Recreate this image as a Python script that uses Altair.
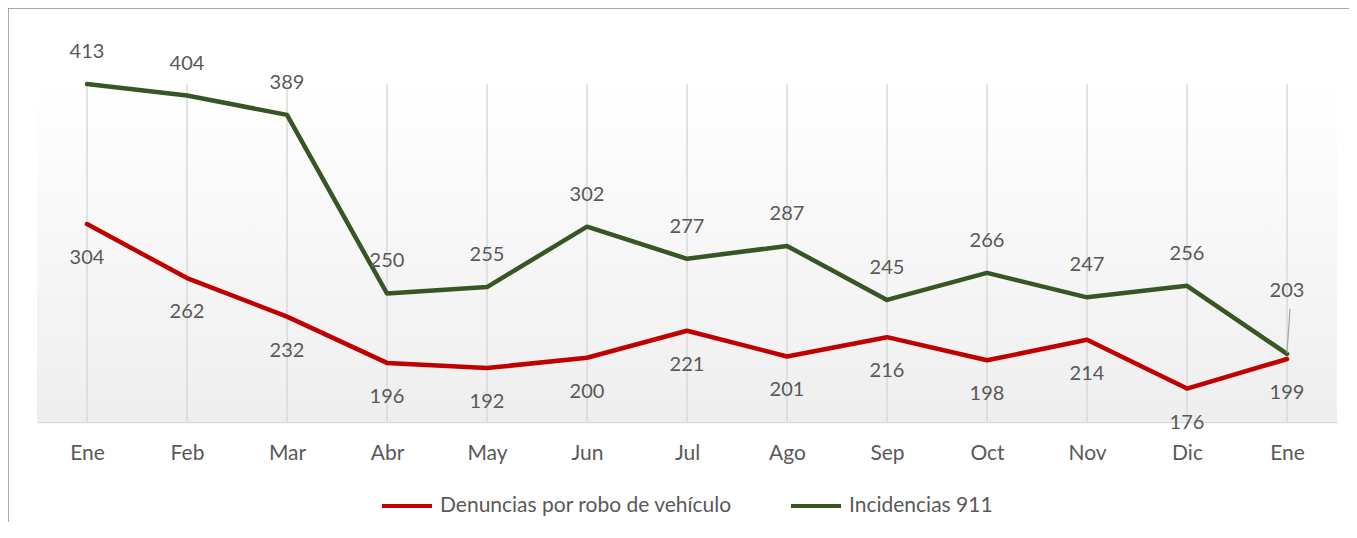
import altair as alt
import pandas as pd

meses = ["Ene", "Feb", "Mar", "Abr", "May", "Jun", "Jul", "Ago", "Sep", "Oct", "Nov", "Dic", "Ene"]
denuncias = [304, 262, 232, 196, 192, 200, 221, 201, 216, 198, 214, 176, 199]
incidencias = [413, 404, 389, 250, 255, 302, 277, 287, 245, 266, 247, 256, 203]
series = ["Denuncias por robo de vehículo", "Incidencias 911"]
colores = ["#C00000", "#375623"]

rows = []
for i, (m, d, g) in enumerate(zip(meses, denuncias, incidencias)):
    rows.append({"idx": i, "mes": m, "serie": series[0], "valor": d})
    rows.append({"idx": i, "mes": m, "serie": series[1], "valor": g})
df = pd.DataFrame(rows)
one = pd.DataFrame({"a": [0]})

FONT = "Lato"
TXT = "#595959"
W, H = 1300, 338
last = len(meses) - 1

label_expr = "[" + ",".join("'" + m + "'" for m in meses) + "][datum.value]"

X = alt.X("idx:O", scale=alt.Scale(type="point", padding=0.5),
          axis=alt.Axis(title=None, labelExpr=label_expr, labelAngle=0, ticks=False,
                        domainColor="#d9d9d9", domainWidth=1.5, labelFontSize=21,
                        labelColor=TXT, labelFont=FONT, labelPadding=20, grid=False))
Y = alt.Y("valor:Q", scale=alt.Scale(domain=[150, 413], nice=False, zero=False), axis=None)

base = alt.Chart(df)

grad = alt.Gradient(gradient="linear", x1=0, x2=0, y1=0, y2=1,
                    stops=[alt.GradientStop(color="#ffffff", offset=0),
                           alt.GradientStop(color="#eeeeee", offset=1)])
bg = alt.Chart(one).mark_rect(fill=grad).encode(
    x=alt.value(0), x2=alt.value(W), y=alt.value(0), y2=alt.value(H))

grid = base.transform_filter(alt.datum.serie == series[0]).mark_rule(
    color="#d9d9d9", strokeWidth=1.5).encode(x=X, y=alt.value(0), y2=alt.value(H))

lines = base.mark_line(strokeWidth=4.5, strokeJoin="round", strokeCap="round").encode(
    x=X, y=Y,
    color=alt.Color("serie:N", scale=alt.Scale(domain=series, range=colores),
                    legend=alt.Legend(title=None, orient="none", legendX=343, legendY=395,
                                      direction="horizontal", symbolType="stroke",
                                      symbolStrokeWidth=4, symbolSize=2500,
                                      labelFontSize=21, labelColor=TXT, labelFont=FONT,
                                      labelLimit=0, columnPadding=50, labelOffset=6)))

txt_red = base.transform_filter(alt.datum.serie == series[0]).mark_text(
    dy=34, fontSize=20, color=TXT, font=FONT).encode(x=X, y=Y, text="valor:Q")
txt_green = base.transform_filter(
    (alt.datum.serie == series[1]) & (alt.datum.idx < last)).mark_text(
    dy=-32, fontSize=20, color=TXT, font=FONT).encode(x=X, y=Y, text="valor:Q")
txt_green_last = base.transform_filter(
    (alt.datum.serie == series[1]) & (alt.datum.idx == last)).mark_text(
    dy=-63, fontSize=20, color=TXT, font=FONT).encode(x=X, y=Y, text="valor:Q")
leader = base.transform_filter(
    (alt.datum.serie == series[1]) & (alt.datum.idx == last)).mark_rule(
    color="#a6a6a6", strokeWidth=1.2, yOffset=-1, y2Offset=-45, x2Offset=3).encode(
    x=X, x2=alt.X2("idx"), y=Y, y2=alt.Y2("valor"))

border_left = alt.Chart(one).mark_rule(color="#8c8c8c", strokeWidth=1.5).encode(
    x=alt.value(-29), y=alt.value(-76), y2=alt.value(H + 120))
border_top = alt.Chart(one).mark_rule(color="#8c8c8c", strokeWidth=1.5).encode(
    x=alt.value(-29), x2=alt.value(W + 12), y=alt.value(-76))

chart = alt.layer(bg, grid, lines, txt_red, txt_green, txt_green_last, leader,
                  border_left, border_top).properties(
    width=W, height=H, autosize="none",
    padding={"left": 29, "top": 76, "right": 12, "bottom": 100},
).configure_view(stroke=None)

chart.save("out.html", embed_options={"renderer": "svg", "actions": False})
